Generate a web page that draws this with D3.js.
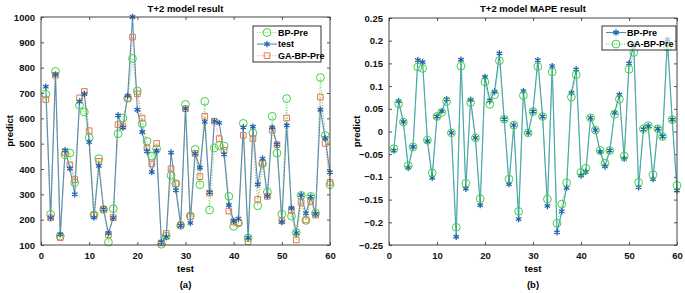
<!DOCTYPE html>
<html>
<head>
<meta charset="utf-8">
<script src="https://cdn.jsdelivr.net/npm/d3@7"></script>
<style>
  body { margin: 0; background: #fff; }
  svg { font-family: "Liberation Sans", Arial, sans-serif; font-weight: bold; }
</style>
</head>
<body>
<div id="chart"></div>
<script>
var width = 685,
    height = 293;

// x positions 1..60
var idx = d3.range(1, 61);

// left panel: T+2 model result
var testVals = [725, 207, 772, 142, 474, 402, 300, 666, 696, 506, 208, 412, 241, 147, 207, 612, 564, 690, 1000, 634,
    546, 470, 388, 472, 111, 132, 465, 316, 177, 638, 187, 461, 405, 586, 307, 589, 582, 458, 258, 195,
    204, 564, 128, 567, 339, 441, 293, 564, 497, 191, 572, 246, 147, 297, 225, 291, 222, 634, 522, 387];
var bpPre = [695, 221, 785, 135, 456, 463, 346, 652, 625, 524, 219, 441, 240, 111, 243, 539, 601, 679, 836, 708,
    579, 509, 451, 480, 103, 135, 375, 342, 178, 655, 215, 477, 338, 667, 238, 483, 493, 491, 292, 174,
    187, 580, 128, 542, 255, 421, 309, 608, 463, 222, 678, 214, 149, 296, 197, 292, 225, 761, 532, 338];
var gaBpPre = [674, 207, 770, 129, 465, 416, 358, 681, 706, 551, 217, 430, 241, 141, 208, 575, 569, 679, 921, 697,
    601, 483, 420, 501, 108, 146, 401, 342, 178, 638, 212, 461, 370, 608, 305, 589, 520, 474, 234, 191,
    188, 533, 113, 520, 280, 424, 292, 553, 496, 195, 601, 237, 120, 268, 199, 272, 218, 684, 501, 347];

// right panel: T+2 model MAPE result
var bpMape = [-0.042, 0.067, 0.021, -0.080, -0.034, 0.157, 0.153, -0.021, -0.102, 0.033, 0.045, 0.071, -0.003, -0.232, 0.158,
    -0.126, 0.070, -0.014, -0.162, 0.120, 0.068, 0.088, 0.172, 0.027, -0.116, 0.014, -0.193, 0.089, -0.003, 0.044,
    0.157, 0.033, -0.164, 0.144, -0.222, -0.176, -0.124, 0.085, 0.137, -0.097, -0.089, 0.030, 0.003, -0.045, -0.077,
    -0.042, 0.041, 0.081, -0.060, 0.150, 0.190, -0.123, 0.005, 0.012, -0.105, 0.006, -0.011, 0.202, 0.026, -0.130];
var gaMape = [-0.038, 0.061, 0.021, -0.075, -0.034, 0.142, 0.139, -0.019, -0.091, 0.033, 0.042, 0.066, -0.003, -0.211, 0.144,
    -0.114, 0.064, -0.014, -0.148, 0.109, 0.060, 0.081, 0.156, 0.027, -0.105, 0.014, -0.176, 0.079, -0.003, 0.044,
    0.143, 0.033, -0.149, 0.131, -0.202, -0.160, -0.113, 0.076, 0.125, -0.090, -0.081, 0.030, 0.003, -0.042, -0.070,
    -0.042, 0.038, 0.071, -0.054, 0.137, 0.174, -0.112, 0.006, 0.013, -0.095, 0.006, -0.011, 0.186, 0.026, -0.119];

var xTicks = [0, 10, 20, 30, 40, 50, 60];
var yTicksA = d3.range(100, 1001, 100);
var yTicksB = [-0.25, -0.2, -0.15, -0.1, -0.05, 0, 0.05, 0.1, 0.15, 0.2, 0.25];

var svg = d3.select("#chart")
    .append("svg")
    .attr("width", width)
    .attr("height", height);

var star = d3.symbol().type(d3.symbolAsterisk).size(28),
    circ = d3.symbol().type(d3.symbolCircle).size(48),
    sq = d3.symbol().type(d3.symbolSquare).size(32);

var styles = {
    test: {line: "#5b8db5", dash: null, marker: star, mstroke: "#1f63ad", mw: 1.3},
    bp: {line: "#6fdc6f", dash: "1,1.6", marker: circ, mstroke: "#3fd13f", mw: 1},
    ga: {line: "#e8a584", dash: "1,1.6", marker: sq, mstroke: "#df7a4e", mw: 1},
    bpB: {line: "#3f93b3", dash: null, marker: star, mstroke: "#1f63ad", mw: 1.3},
    gaB: {line: "#5fd08a", dash: "1,1.6", marker: circ, mstroke: "#3fd13f", mw: 1}
};

function drawPanel(p) {
    var x = d3.scaleLinear().domain([0, 60]).range([p.x0, p.x1]);
    var y = d3.scaleLinear().domain(p.ydom).range([p.y1, p.y0]);
    var g = svg.append("g");

    g.append("rect")
        .attr("x", p.x0).attr("y", p.y0)
        .attr("width", p.x1 - p.x0).attr("height", p.y1 - p.y0)
        .attr("fill", "#fff");

    // axes with inward ticks on all four sides
    g.append("g").attr("transform", "translate(0," + p.y1 + ")")
        .call(d3.axisBottom(x).tickValues(xTicks).tickSizeInner(-3).tickSizeOuter(0).tickPadding(7))
        .call(styleAxis);
    g.append("g").attr("transform", "translate(0," + p.y0 + ")")
        .call(d3.axisTop(x).tickValues(xTicks).tickSizeInner(-3).tickSizeOuter(0).tickFormat(""))
        .call(styleAxis);
    g.append("g").attr("transform", "translate(" + p.x0 + ",0)")
        .call(d3.axisLeft(y).tickValues(p.yticks).tickSizeInner(-3).tickSizeOuter(0).tickPadding(6).tickFormat(p.fmt))
        .call(styleAxis);
    g.append("g").attr("transform", "translate(" + p.x1 + ",0)")
        .call(d3.axisRight(y).tickValues(p.yticks).tickSizeInner(-3).tickSizeOuter(0).tickFormat(""))
        .call(styleAxis);

    var line = d3.line().x(function (d) { return x(d[0]); }).y(function (d) { return y(d[1]); });

    p.series.forEach(function (s) {
        var st = styles[s.style];
        var pts = idx.map(function (v, i) { return [v, s.values[i]]; });
        g.append("path")
            .datum(pts)
            .attr("d", line)
            .attr("fill", "none")
            .attr("stroke", st.line)
            .attr("stroke-width", 1.1)
            .attr("stroke-dasharray", st.dash);
    });
    p.series.forEach(function (s) {
        var st = styles[s.style];
        g.selectAll(null)
            .data(s.values)
            .enter().append("path")
            .attr("d", st.marker)
            .attr("transform", function (d, i) { return "translate(" + x(idx[i]) + "," + y(d) + ")"; })
            .attr("fill", "none")
            .attr("stroke", st.mstroke)
            .attr("stroke-width", st.mw);
    });

    // frame
    g.append("rect")
        .attr("x", p.x0).attr("y", p.y0)
        .attr("width", p.x1 - p.x0).attr("height", p.y1 - p.y0)
        .attr("fill", "none").attr("stroke", "#444").attr("stroke-width", 1);

    // legend
    var lg = g.append("g");
    lg.append("rect")
        .attr("x", p.leg.x).attr("y", p.leg.y)
        .attr("width", p.leg.w).attr("height", p.leg.h)
        .attr("fill", "#fff").attr("fill-opacity", 0.6)
        .attr("stroke", "#333").attr("stroke-width", 1);
    p.leg.items.forEach(function (it, i) {
        var st = styles[it.style],
            cy = p.leg.y + 6.5 + i * 11.6;
        lg.append("line")
            .attr("x1", p.leg.x + 4).attr("x2", p.leg.x + 24)
            .attr("y1", cy).attr("y2", cy)
            .attr("stroke", st.line).attr("stroke-width", 1.1)
            .attr("stroke-dasharray", st.dash);
        lg.append("path")
            .attr("d", st.marker)
            .attr("transform", "translate(" + (p.leg.x + 14) + "," + cy + ")")
            .attr("fill", "none").attr("stroke", st.mstroke).attr("stroke-width", st.mw);
        lg.append("text")
            .attr("x", p.leg.x + 25).attr("y", cy + 3.3)
            .style("font-size", "9px")
            .text(it.name);
    });

    // titles
    g.append("text")
        .attr("x", (p.x0 + p.x1) / 2).attr("y", 12)
        .attr("text-anchor", "middle")
        .style("font-size", "9.5px")
        .text(p.title);
    g.append("text")
        .attr("x", (p.x0 + p.x1) / 2).attr("y", 272)
        .attr("text-anchor", "middle")
        .style("font-size", "9.5px")
        .text("test");
    g.append("text")
        .attr("x", (p.x0 + p.x1) / 2).attr("y", 288)
        .attr("text-anchor", "middle")
        .style("font-size", "9.5px")
        .text(p.tag);
    g.append("text")
        .attr("transform", "translate(" + p.ylabX + "," + ((p.y0 + p.y1) / 2) + ")rotate(-90)")
        .attr("text-anchor", "middle")
        .style("font-size", "9.5px")
        .text("predict");
}

function styleAxis(sel) {
    sel.select(".domain").remove();
    sel.selectAll(".tick line").attr("stroke", "#555");
    sel.selectAll(".tick text")
        .attr("fill", "#111")
        .style("font-size", "9.5px")
        .style("font-family", "Liberation Sans, Arial, sans-serif")
        .style("font-weight", "bold");
}

drawPanel({
    x0: 41, x1: 330, y0: 17, y1: 245,
    ydom: [100, 1000], yticks: yTicksA, fmt: d3.format("d"),
    title: "T+2 model result", tag: "(a)", ylabX: 13,
    series: [
        {values: bpPre, style: "bp"},
        {values: gaBpPre, style: "ga"},
        {values: testVals, style: "test"}
    ],
    leg: {x: 253, y: 26, w: 68, h: 36, items: [
        {name: "BP-Pre", style: "bp"},
        {name: "test", style: "test"},
        {name: "GA-BP-Pre", style: "ga"}
    ]}
});

drawPanel({
    x0: 389, x1: 677, y0: 18, y1: 245,
    ydom: [-0.25, 0.25], yticks: yTicksB, fmt: function (d) { return d3.format("")(+d.toFixed(2)); },
    title: "T+2 model MAPE result", tag: "(b)", ylabX: 360,
    series: [
        {values: bpMape, style: "bpB"},
        {values: gaMape, style: "gaB"}
    ],
    leg: {x: 602, y: 26, w: 74, h: 24, items: [
        {name: "BP-Pre", style: "bpB"},
        {name: "GA-BP-Pre", style: "gaB"}
    ]}
});
</script>
</body>
</html>
